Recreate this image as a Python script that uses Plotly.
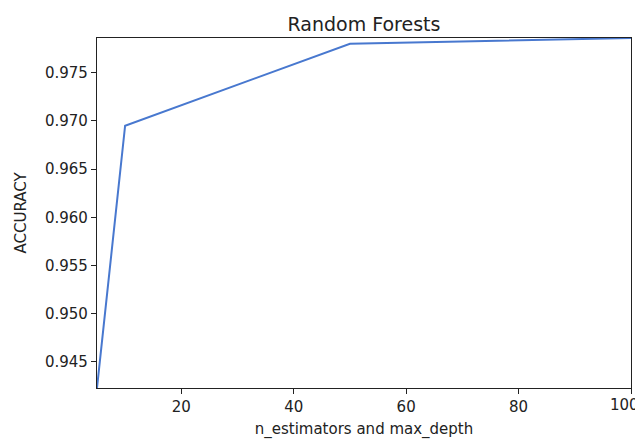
import plotly.graph_objects as go

n_values = [5, 10, 50, 100]
accuracy = [0.9423, 0.9695, 0.9780, 0.9786]
x_ticks = [20, 40, 60, 80, 100]
x_tick_labels = ["20", "40", "60", "80", ""]
last_tick_label = "100"
y_ticks = [0.945, 0.950, 0.955, 0.960, 0.965, 0.970, 0.975]

font = "DejaVu Sans"
fig = go.Figure()
fig.add_trace(go.Scatter(x=n_values, y=accuracy, mode="lines", cliponaxis=True,
                         line=dict(color="#4878cf", width=2)))

axis_common = dict(showline=True, linecolor="#222", linewidth=1.2, mirror=True,
                   ticks="outside", ticklen=5, tickwidth=1.2, tickcolor="#222",
                   showgrid=False, zeroline=False, automargin=False,
                   tickfont=dict(family=font, size=15, color="#222"))

# page body adds an 8px offset, so the figure is drawn 8px smaller
fig.update_layout(
    width=635, height=431,
    margin=dict(l=89, r=12, t=30, b=51),
    paper_bgcolor="white", plot_bgcolor="white",
    showlegend=False,
    title=dict(text="Random Forests", x=0.5, xref="paper", xanchor="center",
               y=1, yref="paper", yanchor="bottom", pad=dict(b=7),
               font=dict(family=font, size=19, color="#222")),
    xaxis=dict(range=[4.9999, 100.0001], tickvals=x_ticks, ticktext=x_tick_labels,
               title=dict(text="n_estimators and max_depth", standoff=9,
                          font=dict(family=font, size=15, color="#222")),
               **axis_common),
    yaxis=dict(range=[accuracy[0], accuracy[-1]], tickvals=y_ticks, tickformat=".3f",
               title=dict(text="ACCURACY", standoff=14,
                          font=dict(family=font, size=15, color="#222")),
               **axis_common),
)

# last x tick label kept inside the page edge, as in the reference
fig.add_annotation(x=x_ticks[-1], xref="x", y=0, yref="paper",
                   text=last_tick_label, showarrow=False,
                   xanchor="right", yanchor="top", xshift=10, yshift=-6,
                   font=dict(family=font, size=15, color="#222"))

fig.write_html("out.html")
